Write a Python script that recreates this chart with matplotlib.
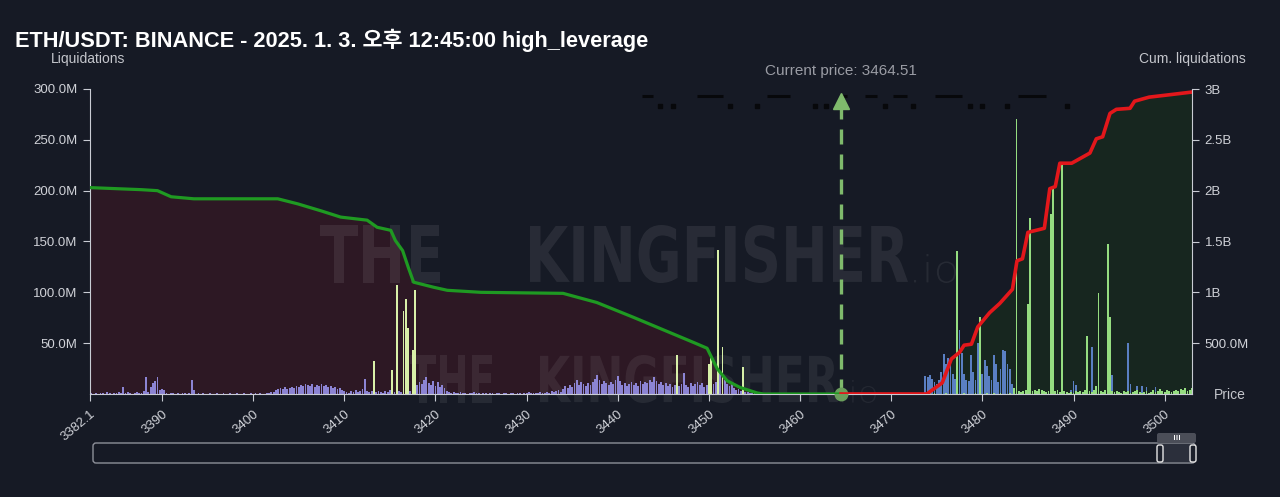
import numpy as np
import matplotlib
matplotlib.use("Agg")
import matplotlib.pyplot as plt
from matplotlib.textpath import TextPath
from matplotlib.font_manager import FontProperties
from matplotlib.patches import PathPatch, FancyBboxPatch
from matplotlib.transforms import Affine2D, IdentityTransform

plt.rcParams['font.family'] = ['Liberation Sans', 'Noto Sans CJK KR', 'DejaVu Sans']

BG = '#161a25'
TXT = '#d0d2d8'

title = "ETH/USDT: BINANCE - 2025. 1. 3. 오후 12:45:00 high_leverage"
current_price = 3464.51

# liquidation bars below current price (M), step 0.25 starting 3382.25
left_start, step = 3382.25, 0.25
purple_vals = [
    1, 0, 1, 0,  1, 1, 0, 2,  1, 0, 1, 1,  2, 1, 7, 1,  2, 1, 0, 1,  2, 1, 1, 3,
    17, 2, 7, 11,  13, 17, 4, 5,  4, 1, 0, 1,  1, 0, 1, 0,  1, 1, 0, 1,  14, 4, 0, 1,
    0, 1, 0, 0,  1, 0, 0, 1,  0, 0, 1, 0,  0, 1, 0, 0,  1, 0, 0, 1,  0, 0, 1, 0,
    1, 0, 1, 0,  0, 1, 1, 2,  2, 4, 5, 6,  5, 7, 5, 6,  7, 6, 8, 7,  9, 8, 10, 9,
    8, 10, 7, 9,  8, 10, 8, 9,  7, 8, 6, 7,  5, 6, 4, 3,  2, 1, 3, 2,  4, 2, 3, 5,
    15, 3, 2, 3,  1, 2, 3, 2,  1, 3, 2, 4,  3, 2, 4, 3,  2, 3, 4, 2,  3, 2, 4, 9,
    12, 10, 14, 17,  11, 9, 13, 8,  12, 7, 9, 6,  3, 2, 1, 2,  1, 1, 2, 1,  1, 0, 1, 1,
    2, 1, 1, 0,  1, 1, 0, 1,  1, 0, 1, 1,  0, 1, 1, 0,  1, 1, 0, 1,  1, 0, 1, 1,
    2, 1, 1, 1,  1, 2, 1, 1,  2, 1, 3, 2,  3, 4, 2, 5,  8, 6, 9, 7,  11, 14, 9, 12,
    10, 8, 11, 9,  12, 15, 19, 14,  10, 13, 11, 9,  12, 10, 14, 18,  13, 9, 11, 8,
    10, 12, 9, 11,  8, 13, 10, 12,  11, 14, 12, 17,  13, 10, 12, 9,  11, 8, 10, 7,
    9, 12, 8, 10,  21, 9, 7, 11,  8, 10, 12, 9,  11, 7, 9, 6,  8, 10, 12, 9,
    22, 20, 14, 10,  8, 12, 6, 4,  5, 3, 4, 2,  2, 1, 1, 1,  1, 0, 1, 0,
]
yellow_prices = [3413.25, 3415.25, 3415.75, 3416.5, 3416.75, 3417.0, 3417.5, 3417.75,
                 3446.5, 3450.0, 3450.25, 3451.0, 3451.5, 3453.75]
yellow_vals = [32, 24, 107, 82, 93, 65, 43, 102, 38, 30, 35, 142, 46, 27]

# liquidation bars above current price (M), step 0.25 starting 3473.75
right_start = 3473.75
blue_vals = [
    18, 17, 19, 15,  12, 10, 14, 22,  39, 30, 35, 32,  20, 15, 12, 63,  40, 20, 14, 13,
    38, 22, 14, 50,  12, 20, 33, 28,  18, 14, 38, 30,  12, 25, 43, 42,  30, 25, 10, 3,
    0, 2, 1, 0,  1, 0, 0, 2,  1, 0, 1, 0,  0, 1, 0, 0,  0, 1, 0, 1,  0, 0, 1, 0,
    4, 13, 9, 1,  0, 1, 0, 0,  2, 46, 1, 0,  0, 1, 0, 2,  0, 0, 19, 1,  0, 1, 0, 1,
    2, 50, 10, 1,  2, 8, 0, 8,  1, 7, 1, 0,  1, 7, 0, 1,  0, 1, 0, 1,  0, 1, 0, 0,
    1, 0, 1, 0,  0, 1,
]
green_vals = [
    0, 0, 1, 0,  1, 0, 0, 0,  0, 1, 0, 0,  0, 0, 141, 0,  0, 1, 0, 0,  0, 0, 1, 0,
    76, 0, 0, 1,  0, 0, 1, 0,  0, 1, 0, 0,  0, 1, 0, 6,  270, 3, 2, 3,  4, 89, 173, 3,
    4, 3, 5, 4,  3, 2, 3, 177,  205, 3, 4, 2,  227, 3, 2, 1,  2, 1, 3, 2,  3, 2, 4, 57,
    3, 2, 4, 8,  99, 3, 2, 4,  148, 76, 3, 2,  3, 2, 1, 3,  2, 3, 1, 2,  3, 4, 2, 1,
    2, 3, 1, 2,  4, 2, 3, 5,  3, 2, 4, 3,  2, 3, 4, 3,  5, 4, 6, 3,  4, 6,
]

# cumulative liquidations (B)
cum_left_price = [3382.1, 3387.7, 3389.5, 3391.0, 3393.5, 3402.7, 3404.9, 3407.5, 3409.6,
                  3412.5, 3413.6, 3415.1, 3415.6, 3416.4, 3417.0, 3417.6, 3419.8, 3421.3,
                  3425.0, 3434.0, 3437.7, 3441.7, 3446.1, 3448.5, 3449.8, 3450.9, 3452.0,
                  3453.4, 3455.3, 3456.0, 3464.51]
cum_left_vals = [2.03, 2.01, 2.00, 1.94, 1.92, 1.92, 1.87, 1.80, 1.74,
                 1.71, 1.64, 1.61, 1.51, 1.41, 1.25, 1.10, 1.05, 1.02,
                 1.00, 0.99, 0.90, 0.755, 0.59, 0.50, 0.45, 0.25, 0.13,
                 0.065, 0.01, 0.0, 0.0]
cum_right_price = [3464.51, 3473.9, 3475.6, 3476.6, 3477.5, 3478.0, 3478.8, 3479.5, 3480.8,
                   3481.9, 3483.3, 3483.8, 3484.4, 3485.0, 3486.8, 3487.4, 3488.0, 3488.5,
                   3489.8, 3491.0, 3491.8, 3492.5, 3493.2, 3494.0, 3494.7, 3496.2, 3496.7,
                   3498.3, 3500.2, 3503.0]
cum_right_vals = [0, 0, 0.11, 0.345, 0.41, 0.48, 0.49, 0.66, 0.80,
                  0.89, 1.03, 1.31, 1.33, 1.59, 1.63, 2.02, 2.04, 2.27,
                  2.27, 2.33, 2.37, 2.51, 2.53, 2.76, 2.80, 2.81, 2.88,
                  2.92, 2.94, 2.97]

# dark label stubs along the top
stub_dashes = [(3442.7, 3443.9), (3448.7, 3451.5), (3456.4, 3458.9), (3464.4, 3465.1),
               (3467.1, 3468.4), (3470.2, 3471.7), (3474.8, 3477.8), (3483.9, 3487.0)]
stub_dots = [3444.6, 3446.1, 3452.3, 3455.3, 3461.6, 3462.9, 3469.3, 3472.35,
             3478.6, 3480.0, 3482.75, 3489.3]

xticks = [3382.1, 3390, 3400, 3410, 3420, 3430, 3440, 3450, 3460, 3470, 3480, 3490, 3500]
left_ticks = [50, 100, 150, 200, 250, 300]
right_ticks = [0.5, 1, 1.5, 2, 2.5, 3]
right_labels = ['500.0M', '1B', '1.5B', '2B', '2.5B', '3B']

W, H = 1280, 497
fig = plt.figure(figsize=(12.8, 4.97), dpi=100, facecolor=BG)
rect = [90 / W, 1 - 394 / H, 1102 / W, 305 / H]

ax_fill = fig.add_axes(rect)      # cumulative fill, bottom layer
ax = fig.add_axes(rect, sharex=ax_fill)  # bars
ax_line = fig.add_axes(rect, sharex=ax_fill)  # cumulative lines on top
ax_fill.set_zorder(0)
ax.set_zorder(1)
ax_line.set_zorder(2)
ax_fill.set_facecolor(BG)
for a in (ax, ax_line):
    a.patch.set_visible(False)

ax_fill.fill_between(cum_left_price, cum_left_vals, 0, color='#2d1824', lw=0)
ax_fill.fill_between(cum_right_price, cum_right_vals, 0, color='#17261f', lw=0)

left_p = left_start + step * np.arange(len(purple_vals))
right_p = right_start + step * np.arange(len(blue_vals))
ax.bar(left_p, purple_vals, width=0.2, color='#8c84d4', lw=0)
ax.bar(yellow_prices, yellow_vals, width=0.2, color='#d8f0a8', lw=0)
ax.bar(right_p, blue_vals, width=0.2, color='#5a7fc2', lw=0)
ax.bar(right_p, green_vals, width=0.2, color='#95dd80', lw=0)

ax_line.plot(cum_left_price, cum_left_vals, color='#1f9a22', lw=2.3, solid_joinstyle='round')
ax_line.plot(cum_right_price, cum_right_vals, color='#e3171b', lw=2.6, solid_joinstyle='round')

# current price marker
ax.plot([current_price, current_price], [0, 284], color='#7fba6c', lw=2.4,
        dashes=(4.5, 3), zorder=5)
ax.plot([current_price], [288], marker='^', ms=11, color='#7fba6c', zorder=6, clip_on=False)
ax.plot([current_price], [0], marker='o', ms=9, color='#6a9e5c', zorder=6, clip_on=False)
for a, b in stub_dashes:
    ax.plot([a, b], [293, 293], color='#07080b', lw=2.2, solid_capstyle='butt', zorder=4)
ax.plot(stub_dots, [283] * len(stub_dots), 's', ms=3, color='#07080b', zorder=4)

ax_fill.set_xlim(3382.1, 3503.0)
ax.set_ylim(0, 300)
ax_fill.set_ylim(0, 3)
ax_line.set_ylim(0, 3)

for a in (ax_fill, ax, ax_line):
    for s in a.spines.values():
        s.set_visible(False)
    a.tick_params(colors=TXT, labelsize=9.5)

ax.spines['left'].set_visible(True)
ax.spines['left'].set_color('#c9ccd4')
ax.spines['bottom'].set_visible(True)
ax.spines['bottom'].set_color('#c9ccd4')
ax.set_yticks(left_ticks)
ax.set_yticklabels([f"{v:.1f}M" for v in left_ticks])
ax.tick_params(axis='y', length=5, color='#c9ccd4', pad=4)
ax.set_xticks(xticks)
ax.set_xticklabels([str(v) for v in xticks], rotation=40, ha='right', va='top',
                   rotation_mode='anchor')
ax.tick_params(axis='x', length=5, color='#c9ccd4', pad=5)

ax_line.spines['right'].set_visible(True)
ax_line.spines['right'].set_color('#c9ccd4')
ax_line.yaxis.tick_right()
ax_line.set_yticks(right_ticks)
ax_line.set_yticklabels(right_labels)
ax_line.tick_params(axis='y', length=5, color='#c9ccd4', pad=4)
ax_line.tick_params(axis='x', bottom=False, labelbottom=False)
ax_fill.tick_params(left=False, labelleft=False, bottom=False, labelbottom=False)

# texts
fig.text(15 / W, 1 - 40 / H, title, color='#ffffff', fontsize=15.7, fontweight='bold',
         va='center', ha='left')
fig.text(88 / W, 1 - 59 / H, 'Liquidations', color='#c4c6cc', fontsize=10, ha='center', va='center')
fig.text(1192 / W, 1 - 59 / H, 'Cum. liquidations', color='#c4c6cc', fontsize=10,
         ha='center', va='center')
fig.text(1230 / W, 1 - 395 / H, 'Price', color='#c4c6cc', fontsize=10, ha='center', va='center')
fig.text(841 / W, 1 - 71 / H, 'Current price: 3464.51', color='#9a9ca4', fontsize=11,
         ha='center', va='center')

# watermark
fp_bold = FontProperties(family='DejaVu Sans', weight='bold')
fp_thin = FontProperties(family='DejaVu Sans', weight='light')


def stamp(text, x0, x1, top, bottom, fp, alpha):
    tp = TextPath((0, 0), text, size=100, prop=fp)
    bb = tp.get_extents()
    tr = (Affine2D().translate(-bb.x0, -bb.y0)
          .scale((x1 - x0) / bb.width, (bottom - top) / bb.height)
          .translate(x0, H - bottom))
    fig.add_artist(PathPatch(tr.transform_path(tp), transform=IdentityTransform(),
                             facecolor='white', alpha=alpha, lw=0, zorder=1))


stamp('THE', 320, 440, 225, 283, fp_bold, 0.08)
stamp('KINGFISHER', 530, 908, 225, 283, fp_bold, 0.08)
stamp('.io', 914, 956, 254, 283, fp_thin, 0.07)
stamp('THE', 410, 492, 355, 403, fp_bold, 0.07)
stamp('KINGFISHER', 540, 838, 355, 403, fp_bold, 0.07)
stamp('.io', 842, 876, 380, 403, fp_thin, 0.06)

# range slider
def box(x, y, w, h, fc, ec, r=3, lw=1.0):
    fig.add_artist(FancyBboxPatch((x, H - y - h), w, h,
                                  boxstyle=f'round,pad=0,rounding_size={r}',
                                  transform=IdentityTransform(), facecolor=fc,
                                  edgecolor=ec, lw=lw, zorder=2))


box(93, 443, 1102, 20, 'none', '#8d9099')
box(1160, 444, 34, 18, '#2b2f3b', 'none', r=0)
box(1157, 433, 39, 10, '#4b4e58', 'none', r=2)
for gx in (1174, 1176.5, 1179):
    box(gx, 435, 1, 5, 'white', 'none', r=0, lw=0)
box(1157, 445, 6, 17, '#1c202b', '#e6e6e6', r=2)
box(1190, 445, 6, 17, '#1c202b', '#e6e6e6', r=2)

fig.savefig('out.png', dpi=100, facecolor=BG)
